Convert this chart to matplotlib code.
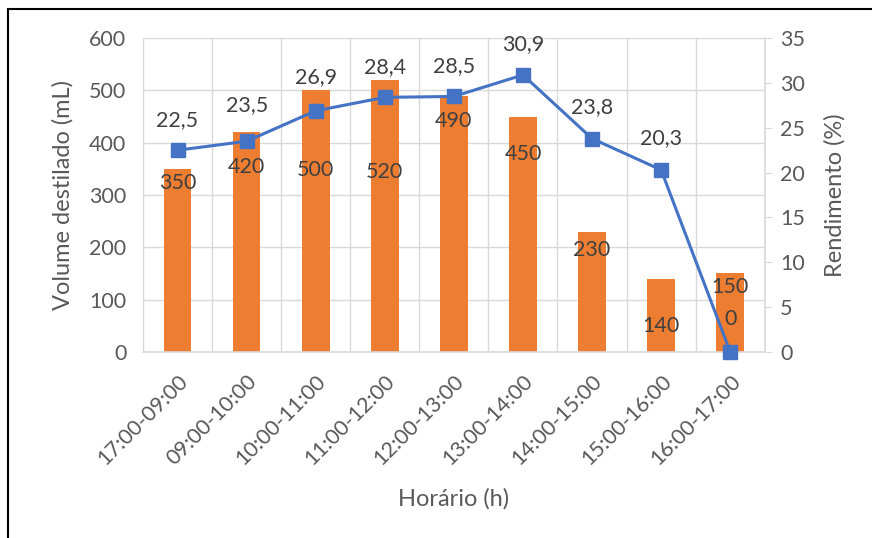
import matplotlib
matplotlib.use('Agg')
import matplotlib.pyplot as plt
from matplotlib.patches import Rectangle

# Data
horarios = ['17:00-09:00', '09:00-10:00', '10:00-11:00', '11:00-12:00', '12:00-13:00',
            '13:00-14:00', '14:00-15:00', '15:00-16:00', '16:00-17:00']
volume = [350, 420, 500, 520, 490, 450, 230, 140, 150]
rendimento = [22.5, 23.5, 26.9, 28.4, 28.5, 30.9, 23.8, 20.3, 0]

# label offsets (points) chosen to mimic the original placement
bar_label_dy = [-10, -25, -57, -66, -18, -27, -13, -34, -10]
line_label_dy = [22, 26, 24, 22, 22, 22, 23, 23, 24]

plt.rcParams['font.family'] = ['Lato', 'DejaVu Sans']
orange = '#ED7D31'
blue = '#4472C4'
tick_col = '#595959'
grid_col = '#D9D9D9'
fs = 15.5

fig = plt.figure(figsize=(8.72, 5.38), dpi=100)
ax = fig.add_axes([0.164, 0.346, 0.713, 0.583])
fig.patches.append(Rectangle((8 / 872, -0.1), 1.2, 1 - 9 / 538 + 0.1, transform=fig.transFigure,
                             fill=False, edgecolor='black', linewidth=1.5))

x = list(range(len(horarios)))
ax.bar(x, volume, width=0.4, color=orange, zorder=2)
ax.set_xlim(-0.5, len(horarios) - 0.5)
ax.set_ylim(0, 600)
ax.set_yticks(range(0, 601, 100))
ax.set_xticks(x)
ax.set_xticklabels(horarios, rotation=45, ha='right', va='top', rotation_mode='anchor')
ax.set_xticks([i - 0.5 for i in range(len(horarios) + 1)], minor=True)
ax.grid(axis='y', color=grid_col, linewidth=1, zorder=0)
ax.grid(axis='x', which='minor', color=grid_col, linewidth=1, zorder=0)
ax.tick_params(axis='x', which='both', length=0, labelsize=fs, colors=tick_col, pad=14)
ax.tick_params(axis='y', length=0, labelsize=fs, colors=tick_col, pad=12)
for s in ['top', 'right']:
    ax.spines[s].set_visible(False)
ax.spines['left'].set_color(grid_col)
ax.spines['bottom'].set_color(grid_col)
ax.spines['bottom'].set_linewidth(1.2)
ax.set_xlabel('Horário (h)', fontsize=17, color=tick_col, labelpad=14)
ax.set_ylabel('Volume destilado (mL)', fontsize=17, color=tick_col, labelpad=11)

for xi, v, dy in zip(x, volume, bar_label_dy):
    ax.annotate(str(v), (xi, v), xytext=(0, dy), textcoords='offset points',
                ha='center', va='center', fontsize=fs, color='#404040', zorder=5)

ax2 = ax.twinx()
ax2.plot(x, rendimento, color=blue, linewidth=2.2, marker='s', markersize=10.5, zorder=4, clip_on=False)
ax2.set_ylim(0, 35)
ax2.set_yticks(range(0, 36, 5))
for s in ['top', 'left', 'bottom']:
    ax2.spines[s].set_visible(False)
ax2.spines['right'].set_color(grid_col)
ax2.spines['right'].set_linewidth(1.2)
ax2.tick_params(axis='y', length=5, color=grid_col, labelsize=fs, labelcolor=tick_col, pad=6)
ax2.set_ylabel('Rendimento (%)', fontsize=17, color=tick_col, labelpad=14)

for xi, r, dy in zip(x, rendimento, line_label_dy):
    ax2.annotate(f'{r:g}'.replace('.', ','), (xi, r), xytext=(0, dy), textcoords='offset points',
                 ha='center', va='center', fontsize=fs, color='#404040', zorder=5)

fig.savefig('out.png', dpi=100)
